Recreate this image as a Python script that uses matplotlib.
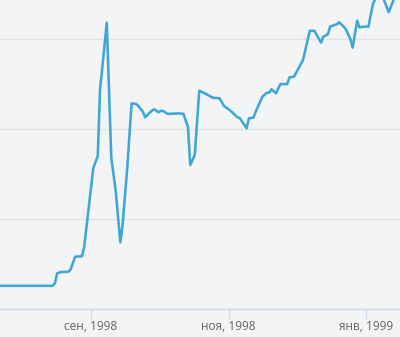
import matplotlib
matplotlib.use("Agg")
import matplotlib.pyplot as plt
import matplotlib.dates as mdates
import pandas as pd

dates = [
    "1998-07-19", "1998-08-15", "1998-08-16", "1998-08-17", "1998-08-19",
    "1998-08-22", "1998-08-23", "1998-08-25", "1998-08-28", "1998-08-29",
    "1998-09-02", "1998-09-04", "1998-09-05", "1998-09-08", "1998-09-10",
    "1998-09-12", "1998-09-14", "1998-09-15", "1998-09-17", "1998-09-19",
    "1998-09-21", "1998-09-22", "1998-09-24", "1998-09-25", "1998-09-27",
    "1998-09-28", "1998-09-29", "1998-10-01", "1998-10-02", "1998-10-03",
    "1998-10-05", "1998-10-10", "1998-10-12", "1998-10-14", "1998-10-15",
    "1998-10-17", "1998-10-19", "1998-10-22", "1998-10-25", "1998-10-28",
    "1998-10-30", "1998-11-01", "1998-11-02", "1998-11-05", "1998-11-06",
    "1998-11-09", "1998-11-10", "1998-11-12", "1998-11-13", "1998-11-16",
    "1998-11-18", "1998-11-19", "1998-11-20", "1998-11-22", "1998-11-24",
    "1998-11-27", "1998-11-28", "1998-11-30", "1998-12-02", "1998-12-04",
    "1998-12-07", "1998-12-09", "1998-12-12", "1998-12-13", "1998-12-15",
    "1998-12-16", "1998-12-18", "1998-12-19", "1998-12-20", "1998-12-22",
    "1998-12-23", "1998-12-25", "1998-12-26", "1998-12-28", "1998-12-29",
    "1998-12-31", "1999-01-02", "1999-01-04", "1999-01-07", "1999-01-11",
    "1999-01-16",
]
values = [
    6.26, 6.26, 6.40, 6.96, 7.03,
    7.04, 7.19, 7.88, 7.90, 8.43,
    12.79, 13.47, 17.14, 20.88, 13.36,
    11.49, 8.67, 9.64, 12.69, 16.40,
    16.36, 16.25, 15.93, 15.62, 15.88,
    15.99, 16.07, 15.90, 15.99, 15.97,
    15.81, 15.84, 15.81, 15.07, 12.97,
    13.53, 17.10, 16.92, 16.71, 16.68,
    16.25, 16.07, 15.97, 15.62, 15.57,
    15.01, 15.57, 15.60, 15.93, 16.77,
    16.99, 16.99, 17.18, 16.96, 17.47,
    17.47, 17.84, 17.88, 18.34, 18.81,
    20.43, 20.43, 19.77, 20.10, 20.23,
    20.66, 20.75, 20.79, 20.90, 20.66,
    20.51, 19.96, 19.49, 20.99, 20.62,
    20.66, 20.66, 21.92, 22.75, 21.46,
    23.06,
]
tick_dates = ["1998-09-01", "1998-11-01", "1999-01-01"]
tick_labels = ["сен, 1998", "ноя, 1998", "янв, 1999"]
grid_values = [10, 15, 20]

x = pd.to_datetime(dates)
bg = "#f3f4f6"

fig = plt.figure(figsize=(4.0, 3.37), dpi=100, facecolor=bg)
ax = fig.add_axes([0, (337 - 308.5) / 337, 1, 308.5 / 337])
ax.set_facecolor(bg)

ax.plot(x, values, color="#3fa7d6", linewidth=1.85, solid_joinstyle="round",
        solid_capstyle="round", zorder=3)

sep1 = pd.Timestamp("1998-09-01")
left = sep1 + pd.Timedelta(days=-40.34)
right = sep1 + pd.Timedelta(days=136.99)
ax.set_xlim(left, right)
ax.set_ylim(5, 5 + 308.5 / 18)

for g in grid_values:
    ax.axhline(g, color="#e1e2e5", linewidth=1.0, zorder=1)

for s in ["top", "left", "right"]:
    ax.spines[s].set_visible(False)
ax.spines["bottom"].set_color("#ccd6eb")
ax.spines["bottom"].set_linewidth(1.0)

ax.set_yticks([])
ax.set_xticks(pd.to_datetime(tick_dates))
ax.set_xticklabels(tick_labels, fontfamily="Open Sans", fontsize=8.6, color="#666666")
ax.tick_params(axis="x", length=7.2, width=0.9, color="#ccd6eb", pad=1.3)

fig.savefig("out.png", dpi=100, facecolor=bg)
